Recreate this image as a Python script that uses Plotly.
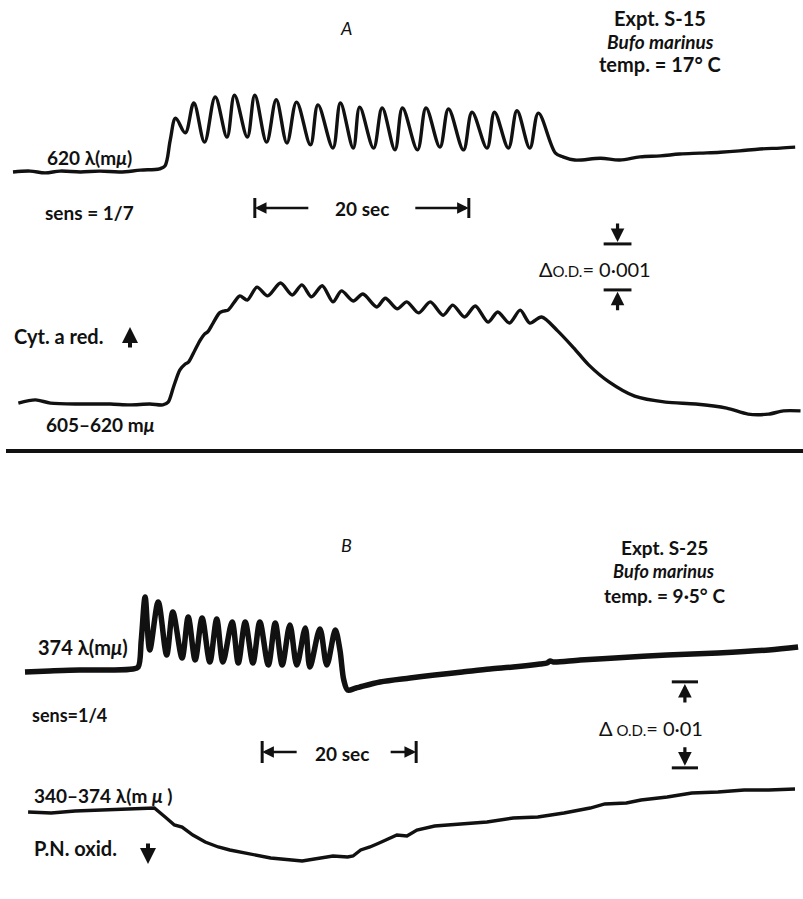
import plotly.graph_objects as go

W, H = 803, 899

# ---------------- data ----------------
# Panel A, Expt. S-15 : time in s, deflection in units of 1e-4 O.D.
a620_t = [0.0, 1.6, 3.0, 4.4, 6.3, 8.1, 10.0, 11.9, 13.7, 14.2, 14.7, 15.2, 16.1, 16.9,
          17.9, 18.9, 20.0, 20.7, 21.9, 22.6, 23.7, 24.6, 25.6, 26.5, 27.8, 28.5, 29.9, 30.6,
          31.8, 32.4, 33.7, 34.5, 35.7, 36.4, 37.8, 38.6, 39.9, 40.7, 42.1, 42.9, 44.3, 45.0,
          46.3, 47.1, 48.3, 49.1, 50.7, 51.4, 52.5, 54.9, 56.7, 58.6, 60.5, 62.3, 64.2, 66.1,
          67.9, 69.8, 71.7, 73.1]
a620_v = [0.0, 0.2, -0.2, 0.2, 0.0, 0.2, 0.0, 0.4, 0.7, 1.3, 7.0, 11.7, 8.5, 15.0,
          6.5, 16.3, 7.6, 16.7, 7.6, 16.7, 6.5, 15.7, 6.3, 15.2, 5.9, 14.6, 5.2, 15.0,
          5.2, 14.1, 5.2, 13.9, 4.8, 13.9, 4.8, 13.9, 5.4, 13.7, 4.8, 13.0, 5.2, 13.0,
          5.2, 13.3, 5.2, 12.8, 4.1, 3.3, 2.6, 3.0, 2.6, 3.3, 3.5, 3.9, 4.1, 4.3,
          4.6, 5.0, 5.2, 5.4]

a605_t = [0.5, 2.1, 3.5, 6.3, 9.1, 10.9, 12.8, 14.0, 14.5, 15.0, 15.6, 16.1, 16.4, 17.0,
          17.5, 17.9, 18.2, 18.7, 19.3, 19.7, 20.1, 20.7, 21.2, 21.9, 22.8, 23.8, 25.0, 26.1,
          27.0, 27.9, 28.9, 29.9, 30.7, 31.8, 32.7, 34.0, 34.8, 35.9, 36.8, 37.9, 39.0, 40.2,
          41.1, 42.2, 43.2, 44.4, 45.3, 46.4, 47.4, 48.3, 49.4, 50.9, 52.4, 53.8, 55.7, 58.1,
          61.0, 63.8, 66.7, 68.7, 70.6, 72.0, 73.6]
a605_v = [0.2, 0.9, 0.2, 0.0, 0.0, -0.2, 0.0, -0.2, 0.4, 3.7, 7.4, 8.7, 9.1, 11.7,
          13.9, 15.2, 15.7, 17.6, 19.8, 20.2, 20.4, 22.2, 23.5, 22.6, 25.4, 23.5, 26.3, 23.7,
          25.9, 23.3, 25.7, 22.2, 24.6, 22.4, 23.9, 21.1, 23.0, 20.7, 22.2, 19.8, 22.2, 19.3,
          21.5, 18.9, 21.3, 17.8, 20.0, 17.6, 20.4, 17.6, 18.9, 15.9, 12.2, 8.5, 4.8, 1.7,
          0.4, 0.0, -0.9, -2.2, -2.2, -1.5, -1.5]

# Panel B, Expt. S-25 : time in s, deflection in units of 1e-3 O.D.
b374_t = [0.0, 3.2, 7.1, 11.0, 14.0, 14.7, 15.1, 15.6, 16.2, 17.3, 18.4, 19.2, 20.4, 21.2,
          22.1, 23.0, 24.0, 24.9, 25.7, 26.9, 27.7, 28.6, 29.6, 30.5, 31.6, 32.5, 33.4, 34.4,
          35.3, 36.4, 37.0, 38.3, 39.2, 40.3, 40.9, 41.4, 41.9, 43.0, 46.1, 50.0, 53.2, 56.8,
          60.4, 63.4, 66.9, 67.8, 68.2, 68.6, 72.1, 76.6, 83.4, 90.0, 96.6, 100.4]
b374_v = [-0.35, -0.23, -0.12, -0.12, 0.0, 0.23, 3.37, 8.37, 2.21, 7.79, 1.63, 6.63, 1.28, 6.05,
          1.05, 5.93, 0.81, 5.81, 0.81, 5.47, 0.70, 5.47, 0.70, 5.47, 0.47, 5.35, 0.47, 5.12,
          0.47, 4.77, 0.23, 4.65, 0.47, 4.53, 2.21, -1.28, -2.44, -2.21, -1.51, -1.05, -0.70, -0.35,
          0.0, 0.23, 0.58, 0.70, 0.93, 0.81, 1.05, 1.28, 1.63, 1.86, 2.21, 2.56]

b340_t = [0.4, 3.4, 6.5, 10.0, 13.0, 16.1, 16.8, 18.2, 19.4, 20.4, 21.8, 23.4, 25.1, 26.6,
          30.0, 31.9, 36.0, 40.0, 41.9, 42.6, 43.6, 44.8, 46.0, 48.3, 49.6, 50.9, 53.2, 56.8,
          60.0, 63.4, 66.6, 70.0, 73.4, 75.3, 78.1, 80.0, 83.4, 86.6, 90.0, 93.4, 96.6, 100.0]
b340_v = [-0.23, -0.35, -0.12, 0.0, 0.12, 0.23, 0.23, -0.81, -1.74, -1.98, -2.91, -3.72, -4.30, -4.65,
          -5.23, -5.58, -5.93, -5.35, -5.47, -5.35, -4.65, -4.30, -3.84, -2.91, -3.02, -2.33, -1.86, -1.63,
          -1.40, -0.93, -0.81, -0.35, 0.23, 0.70, 0.81, 1.16, 1.51, 1.98, 2.09, 2.33, 2.33, 2.44]

# calibration marks
time_bar_s = 20          # "20 sec"
a_time_bar_start = 22.6  # s
b_time_bar_start = 30.8  # s
a_od_bar = 10            # 0.001 O.D. in 1e-4 units
b_od_bar = 10            # 0.01 O.D. in 1e-3 units

# ---------------- layout helpers ----------------
def xr(t0_px, px_per_s):
    return [-t0_px / px_per_s, (W - t0_px) / px_per_s]

def yr(base_px, px_per_unit):
    return [(base_px - H) / px_per_unit, base_px / px_per_unit]

def PX(x):
    return x / W

def PY(y):
    return 1 - y / H

FONT = "Lato, 'Open Sans', 'DejaVu Sans', sans-serif"
INK = "#111111"

fig = go.Figure()
fig.add_trace(go.Scatter(x=a620_t, y=a620_v, xaxis="x", yaxis="y", mode="lines",
                         line=dict(color=INK, width=3.4, shape="spline", smoothing=1.0)))
fig.add_trace(go.Scatter(x=a605_t, y=a605_v, xaxis="x", yaxis="y2", mode="lines",
                         line=dict(color=INK, width=3.4, shape="spline", smoothing=0.8)))
fig.add_trace(go.Scatter(x=b374_t, y=b374_v, xaxis="x2", yaxis="y3", mode="lines",
                         line=dict(color=INK, width=5.5, shape="spline", smoothing=0.9)))
fig.add_trace(go.Scatter(x=b340_t, y=b340_v, xaxis="x2", yaxis="y4", mode="lines",
                         line=dict(color=INK, width=3.4)))

shapes = []
annots = []

def txt(text, x, y, size=17, xanchor="left", bold=True, italic=False):
    annots.append(dict(text=text, x=PX(x), y=PY(y), xref="paper", yref="paper",
                       xanchor=xanchor, yanchor="middle", showarrow=False,
                       font=dict(family=FONT, size=size, color=INK,
                                 weight="bold" if bold else "normal",
                                 style="italic" if italic else "normal")))

def arrow(x, y, ax, ay, xref="paper", yref="paper", width=2.6, size=0.9):
    annots.append(dict(text="", x=x, y=y, xref=xref, yref=yref, ax=ax, ay=ay,
                       axref="pixel", ayref="pixel", showarrow=True, arrowhead=2,
                       arrowsize=size, arrowwidth=width, arrowcolor=INK))

# ---- Panel A texts
txt("A", 346, 28, size=18, xanchor="center", bold=False, italic=True)
txt("Expt. S-15", 660, 18, size=20, xanchor="center")
txt("<i>Bufo marinus</i>", 660, 41, size=19, xanchor="center")
txt("temp. = 17° C", 660, 64, size=20, xanchor="center")
txt("620 λ(m<i>μ</i>)", 45, 158, size=19)
txt("sens = 1/7", 43, 212, size=19)
txt("Cyt. a red.", 12, 336, size=20)
txt("605–620 m<i>μ</i>", 44, 424, size=19)
txt("Δ<span style='font-size:15px'>O.D.</span>= 0·001", 537, 269, size=20, bold=False)

# time bar A
for t in (a_time_bar_start, a_time_bar_start + time_bar_s):
    shapes.append(dict(type="line", xref="x", yref="paper", x0=t, x1=t,
                       y0=PY(198), y1=PY(218), line=dict(color=INK, width=3)))
arrow(a_time_bar_start, PY(208), 55, 0, xref="x")
arrow(a_time_bar_start + time_bar_s, PY(208), -55, 0, xref="x")
annots.append(dict(text="20 sec", x=a_time_bar_start + time_bar_s / 2, y=PY(209),
                   xref="x", yref="paper", showarrow=False, xanchor="center", yanchor="middle",
                   font=dict(family=FONT, size=19, color=INK, weight="bold")))

# O.D. bar A (on the lower A trace scale)
a_od_t = 56.5
a_od_lo = 24.8
for v in (a_od_lo, a_od_lo + a_od_bar):
    shapes.append(dict(type="line", xref="x", yref="y2", x0=a_od_t - 1.3, x1=a_od_t + 1.3,
                       y0=v, y1=v, line=dict(color=INK, width=3)))
arrow(a_od_t, a_od_lo + a_od_bar + 0.4, 0, -20, xref="x", yref="y2", width=3.2, size=0.85)
arrow(a_od_t, a_od_lo - 0.4, 0, 20, xref="x", yref="y2", width=3.2, size=0.85)

# Cyt. a red. arrow (up)
arrow(PX(130), PY(327), 0, 22, width=4, size=0.8)

# separating rule
shapes.append(dict(type="line", xref="paper", yref="paper", x0=PX(6), x1=1.0,
                   y0=PY(451), y1=PY(451), line=dict(color=INK, width=4)))

# ---- Panel B texts
txt("B", 346, 545, size=18, xanchor="center", bold=False, italic=True)
txt("Expt. S-25", 664, 547, size=19, xanchor="center")
txt("<i>Bufo marinus</i>", 664, 571, size=18, xanchor="center")
txt("temp. = 9·5° C", 664, 595, size=19, xanchor="center")
txt("374 λ(m<i>μ</i>)", 36, 647, size=20)
txt("sens=1/4", 30, 715, size=18)
txt("340–374 λ(m <i>μ</i> )", 32, 795, size=19)
txt("P.N. oxid.", 32, 848, size=20)
txt("Δ<span style='font-size:15px'> O.D.</span>= 0·01", 597, 728, size=20, bold=False)

# time bar B
for t in (b_time_bar_start, b_time_bar_start + time_bar_s):
    shapes.append(dict(type="line", xref="x2", yref="paper", x0=t, x1=t,
                       y0=PY(741), y1=PY(763), line=dict(color=INK, width=3)))
arrow(b_time_bar_start, PY(752), 36, 0, xref="x2")
arrow(b_time_bar_start + time_bar_s, PY(752), -27, 0, xref="x2")
annots.append(dict(text="20 sec", x=b_time_bar_start + time_bar_s / 2 + 0.4, y=PY(753),
                   xref="x2", yref="paper", showarrow=False, xanchor="center", yanchor="middle",
                   font=dict(family=FONT, size=19, color=INK, weight="bold")))

# O.D. bar B (on the lower B trace scale)
b_od_t = 85.7
b_od_lo = 4.9
for v in (b_od_lo, b_od_lo + b_od_bar):
    shapes.append(dict(type="line", xref="x2", yref="y4", x0=b_od_t - 1.7, x1=b_od_t + 1.7,
                       y0=v, y1=v, line=dict(color=INK, width=3)))
arrow(b_od_t, b_od_lo + b_od_bar - 0.25, 0, 20, xref="x2", yref="y4", width=3.2, size=0.85)
arrow(b_od_t, b_od_lo + 0.25, 0, -20, xref="x2", yref="y4", width=3.2, size=0.85)

# P.N. oxid. arrow (down)
arrow(PX(148), PY(864), 0, -22, width=4, size=0.8)

ax_common = dict(visible=False, showgrid=False, zeroline=False, fixedrange=True)
fig.update_layout(
    width=W, height=H,
    margin=dict(l=0, r=0, t=0, b=0, pad=0),
    paper_bgcolor="white", plot_bgcolor="white",
    showlegend=False,
    xaxis=dict(range=xr(13, 10.7), domain=[0, 1], **ax_common),
    xaxis2=dict(range=xr(25, 7.7), domain=[0, 1], overlaying="x", **ax_common),
    yaxis=dict(range=yr(172, 4.6), domain=[0, 1], **ax_common),
    yaxis2=dict(range=yr(404, 4.6), overlaying="y", **ax_common),
    yaxis3=dict(range=yr(669, 8.6), overlaying="y", **ax_common),
    yaxis4=dict(range=yr(810, 8.6), overlaying="y", **ax_common),
    shapes=shapes,
    annotations=annots,
)

fig.write_html("out.html")
